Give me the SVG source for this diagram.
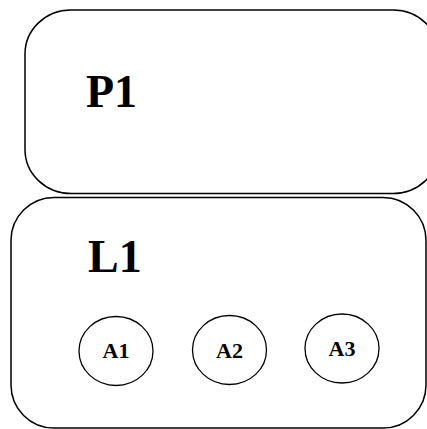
<svg xmlns="http://www.w3.org/2000/svg" width="427" height="429" viewBox="0 0 427 429">
<style>
.box{fill:#fff;stroke:#000;stroke-width:1.5}
.ell{fill:#fff;stroke:#000;stroke-width:1.3}
.big{font-family:"Liberation Serif","Times New Roman",serif;font-weight:bold;font-size:46px;fill:#000}
.small{font-family:"Liberation Serif","Times New Roman",serif;font-weight:bold;font-size:22px;fill:#000;text-anchor:middle}
</style>
<g id="P1">
<rect class="box" x="25" y="10" width="414" height="183.5" rx="46" ry="44"/>
<text class="big" x="86" y="107">P1</text>
</g>
<g id="L1">
<rect class="box" x="11" y="197.5" width="415" height="230.5" rx="43" ry="43"/>
<text class="big" x="88" y="272">L1</text>
</g>
<g id="A1">
<ellipse class="ell" cx="116" cy="351" rx="37" ry="34.5"/>
<text class="small" x="116" y="358">A1</text>
</g>
<g id="A2">
<ellipse class="ell" cx="229.5" cy="350" rx="37" ry="34.5"/>
<text class="small" x="229.5" y="358">A2</text>
</g>
<g id="A3">
<ellipse class="ell" cx="342" cy="348.5" rx="37" ry="34.5"/>
<text class="small" x="342" y="356">A3</text>
</g>
<g id="connectors"/>
</svg>
